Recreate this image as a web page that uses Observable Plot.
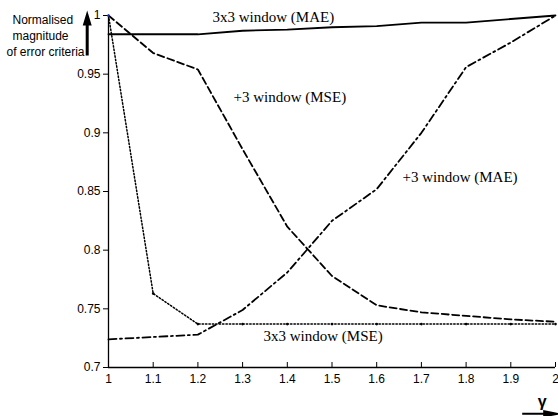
<!DOCTYPE html>
<html><head><meta charset="utf-8">
<script src="https://cdn.jsdelivr.net/npm/d3@7"></script>
<script src="https://cdn.jsdelivr.net/npm/@observablehq/plot@0.6"></script>
<style>body{margin:0;background:#fff} svg{display:block}</style>
</head><body><div id="chart"></div>
<script>
const gamma   = [1.0, 1.1, 1.2, 1.3, 1.4, 1.5, 1.6, 1.7, 1.8, 1.9, 2.0];
const mae3x3  = [0.984, 0.984, 0.984, 0.987, 0.988, 0.990, 0.991, 0.994, 0.994, 0.997, 1.000];
const mse3    = [1.000, 0.968, 0.954, 0.886, 0.820, 0.778, 0.753, 0.747, 0.744, 0.741, 0.739];
const mse3x3  = [1.000, 0.763, 0.737, 0.737, 0.737, 0.737, 0.737, 0.737, 0.737, 0.737, 0.737];
const mae3    = [0.724, 0.726, 0.728, 0.749, 0.781, 0.825, 0.852, 0.900, 0.956, 0.977, 1.000];

const xTicks = [1, 1.1, 1.2, 1.3, 1.4, 1.5, 1.6, 1.7, 1.8, 1.9, 2];
const xTickLabels = ["1", "1.1", "1.2", "1.3", "1.4", "1.5", "1.6", "1.7", "1.8", "1.9", "2"];
const yTicks = [0.7, 0.75, 0.8, 0.85, 0.9, 0.95, 1];
const yTickLabels = ["0.7", "0.75", "0.8", "0.85", "0.9", "0.95", "1"];

const seriesLabels = ["3x3 window (MAE)", "+3 window (MSE)", "+3 window (MAE)", "3x3 window (MSE)"];
const yTitleLines = ["Normalised", "magnitude", "of error criteria"];
const xTitle = "\u03b3";

const toRows = vals => gamma.map((g, i) => ({g, v: vals[i]}));
const rowsMae3x3 = toRows(mae3x3), rowsMse3 = toRows(mse3), rowsMse3x3 = toRows(mse3x3), rowsMae3 = toRows(mae3);

// custom filled arrow symbols (drawn relative to origin)
const upArrow = {draw(ctx) {
  ctx.moveTo(0, 0); ctx.lineTo(4.5, 15); ctx.lineTo(1.5, 15); ctx.lineTo(1.5, 45);
  ctx.lineTo(-1.5, 45); ctx.lineTo(-1.5, 15); ctx.lineTo(-4.5, 15); ctx.closePath();
}};
const rightArrow = {draw(ctx) {
  ctx.moveTo(0, -1); ctx.lineTo(21, -1); ctx.lineTo(21, -3.8); ctx.lineTo(40, 0);
  ctx.lineTo(21, 3.8); ctx.lineTo(21, 1); ctx.lineTo(0, 1); ctx.closePath();
}};

const serif = "'Liberation Serif', 'Times New Roman', serif";
const lbl = (t, dx, dy) => Plot.text([t], {frameAnchor: "top-left", dx, dy, text: d => d,
  textAnchor: "start", lineAnchor: "middle", fontFamily: serif, fontSize: 15, fill: "black"});
const ylbl = (t, dx, dy) => Plot.text([t], {frameAnchor: "top-left", dx, dy, text: d => d,
  textAnchor: "start", lineAnchor: "middle", fontSize: 12, fill: "black"});

const chart = Plot.plot({
  width: 558, height: 416,
  marginLeft: 108, marginRight: 3, marginTop: 15, marginBottom: 49,
  x: {domain: [1, 2]},
  y: {domain: [0.7, 1]},
  style: {fontFamily: "'Liberation Sans', Arial, sans-serif", fontSize: "12px", color: "black", background: "white", overflow: "visible"},
  marks: [
    Plot.axisY(yTicks, {tickSize: 5, tickPadding: 3, tickFormat: d => yTickLabels[yTicks.indexOf(d)], label: null, fontSize: 12}),
    Plot.axisX(xTicks, {tickSize: -5, tickPadding: 12, tickFormat: d => xTickLabels[xTicks.indexOf(d)], label: null, fontSize: 12}),
    Plot.ruleX([1], {stroke: "black", strokeWidth: 1.3}),
    Plot.ruleY([0.7], {stroke: "black", strokeWidth: 1.3}),
    Plot.line(rowsMae3x3, {x: "g", y: "v", stroke: "black", strokeWidth: 1.8}),
    Plot.line(rowsMse3, {x: "g", y: "v", stroke: "black", strokeWidth: 1.8, strokeDasharray: "7,3.5"}),
    Plot.line(rowsMse3x3, {x: "g", y: "v", stroke: "black", strokeWidth: 1.5, strokeDasharray: "1.4,2"}),
    Plot.dot(rowsMse3x3.slice(1), {x: "g", y: "v", r: 1.3, fill: "black", stroke: "none"}),
    Plot.line(rowsMae3, {x: "g", y: "v", stroke: "black", strokeWidth: 1.8, strokeDasharray: "8,3.5,2,3.5"}),
    Plot.dot(rowsMse3x3.slice(0, 1), {x: "g", y: "v", r: 1.3, fill: "#2233bb", stroke: "none"}),
    lbl(seriesLabels[0], 104, 2),
    lbl(seriesLabels[1], 125, 82),
    lbl(seriesLabels[2], 294, 162),
    lbl(seriesLabels[3], 155, 321),
    ylbl(yTitleLines[0], -96, 5),
    ylbl(yTitleLines[1], -96, 21),
    ylbl(yTitleLines[2], -102, 37),
    Plot.dot([0], {frameAnchor: "top-left", dx: -21.3, dy: -5, symbol: upArrow, fill: "black", stroke: "none"}),
    Plot.dot([0], {frameAnchor: "bottom-right", dx: -33.3, dy: 46.3, symbol: rightArrow, fill: "black", stroke: "none"}),
    Plot.text([xTitle], {frameAnchor: "bottom-right", dx: -13.3, dy: 34.7, text: d => d, textAnchor: "middle", lineAnchor: "middle", fontSize: 16, fontWeight: "bold", fill: "black"})
  ]
});
document.getElementById("chart").append(chart);
</script>
</body></html>
